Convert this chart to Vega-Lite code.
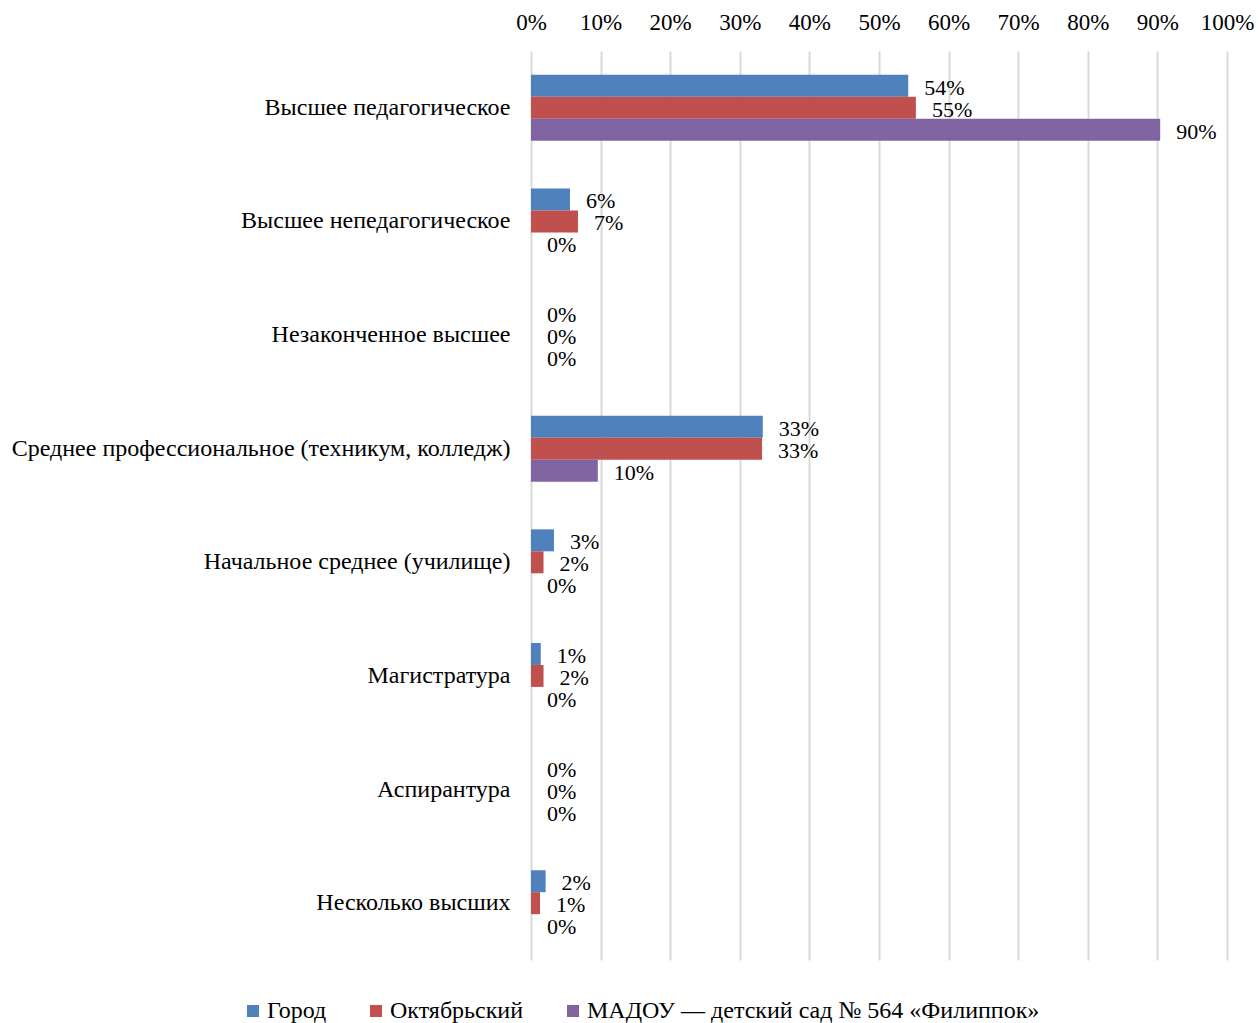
{
  "$schema": "https://vega.github.io/schema/vega-lite/v6.json",
  "width": 696,
  "height": 909,
  "autosize": {"type": "none"},
  "padding": {"left": 531, "top": 51, "right": 32, "bottom": 63},
  "background": "white",
  "config": {
    "font": "Liberation Serif",
    "view": {"stroke": null}
  },
  "data": {
    "values": [
      {"category": "Высшее педагогическое", "series": "Город", "value": 0.542},
      {"category": "Высшее педагогическое", "series": "Октябрьский", "value": 0.553},
      {"category": "Высшее педагогическое", "series": "МАДОУ — детский  сад № 564 «Филиппок»", "value": 0.904},
      {"category": "Высшее непедагогическое", "series": "Город", "value": 0.056},
      {"category": "Высшее непедагогическое", "series": "Октябрьский", "value": 0.0675},
      {"category": "Высшее непедагогическое", "series": "МАДОУ — детский  сад № 564 «Филиппок»", "value": 0},
      {"category": "Незаконченное высшее", "series": "Город", "value": 0},
      {"category": "Незаконченное высшее", "series": "Октябрьский", "value": 0},
      {"category": "Незаконченное высшее", "series": "МАДОУ — детский  сад № 564 «Филиппок»", "value": 0},
      {"category": "Среднее профессиональное (техникум, колледж)", "series": "Город", "value": 0.333},
      {"category": "Среднее профессиональное (техникум, колледж)", "series": "Октябрьский", "value": 0.332},
      {"category": "Среднее профессиональное (техникум, колледж)", "series": "МАДОУ — детский  сад № 564 «Филиппок»", "value": 0.096},
      {"category": "Начальное среднее (училище)", "series": "Город", "value": 0.033},
      {"category": "Начальное среднее (училище)", "series": "Октябрьский", "value": 0.018},
      {"category": "Начальное среднее (училище)", "series": "МАДОУ — детский  сад № 564 «Филиппок»", "value": 0},
      {"category": "Магистратура", "series": "Город", "value": 0.014},
      {"category": "Магистратура", "series": "Октябрьский", "value": 0.018},
      {"category": "Магистратура", "series": "МАДОУ — детский  сад № 564 «Филиппок»", "value": 0},
      {"category": "Аспирантура", "series": "Город", "value": 0},
      {"category": "Аспирантура", "series": "Октябрьский", "value": 0},
      {"category": "Аспирантура", "series": "МАДОУ — детский  сад № 564 «Филиппок»", "value": 0},
      {"category": "Несколько высших", "series": "Город", "value": 0.021},
      {"category": "Несколько высших", "series": "Октябрьский", "value": 0.013},
      {"category": "Несколько высших", "series": "МАДОУ — детский  сад № 564 «Филиппок»", "value": 0}
    ]
  },
  "encoding": {
    "y": {
      "field": "category",
      "type": "nominal",
      "sort": ["Высшее педагогическое", "Высшее непедагогическое", "Незаконченное высшее", "Среднее профессиональное (техникум, колледж)", "Начальное среднее (училище)", "Магистратура", "Аспирантура", "Несколько высших"],
      "scale": {"paddingInner": 0.42, "paddingOuter": 0.21},
      "axis": {"title": null, "domain": false, "ticks": false, "labelPadding": 21, "labelFontSize": 24, "labelColor": "#000000", "labelLimit": 1000}
    },
    "yOffset": {
      "field": "series",
      "type": "nominal",
      "sort": ["Город", "Октябрьский", "МАДОУ — детский  сад № 564 «Филиппок»"]
    },
    "x": {
      "field": "value",
      "type": "quantitative",
      "scale": {"domain": [0, 1], "nice": false},
      "axis": {
        "orient": "top",
        "title": null,
        "format": ".0%",
        "values": [0, 0.1, 0.2, 0.3, 0.4, 0.5, 0.6, 0.7, 0.8, 0.9, 1],
        "domain": false,
        "ticks": false,
        "grid": true,
        "gridColor": "#d9d9d9",
        "gridWidth": 2,
        "labelPadding": 17,
        "labelFontSize": 23,
        "labelColor": "#000000",
        "labelFlush": false
      }
    }
  },
  "layer": [
    {
      "mark": {"type": "bar"},
      "encoding": {
        "color": {
          "field": "series",
          "type": "nominal",
          "sort": ["Город", "Октябрьский", "МАДОУ — детский  сад № 564 «Филиппок»"],
          "scale": {"domain": ["Город", "Октябрьский", "МАДОУ — детский  сад № 564 «Филиппок»"], "range": ["#4F81BD", "#C0504D", "#8064A2"]},
          "legend": {
            "title": null,
            "orient": "none",
            "direction": "horizontal",
            "legendX": -290,
            "legendY": 948,
            "symbolType": "square",
            "symbolSize": 144,
            "symbolStrokeWidth": 0,
            "symbolOpacity": 1,
            "labelFontSize": 24,
            "labelColor": "#000000",
            "labelOffset": 2,
            "columnPadding": 37,
            "labelLimit": 1000
          }
        }
      }
    },
    {
      "mark": {"type": "text", "align": "left", "baseline": "middle", "dx": 16, "dy": 2, "fontSize": 22, "color": "#000000"},
      "encoding": {
        "text": {"field": "value", "type": "quantitative", "format": ".0%"}
      }
    }
  ]
}
